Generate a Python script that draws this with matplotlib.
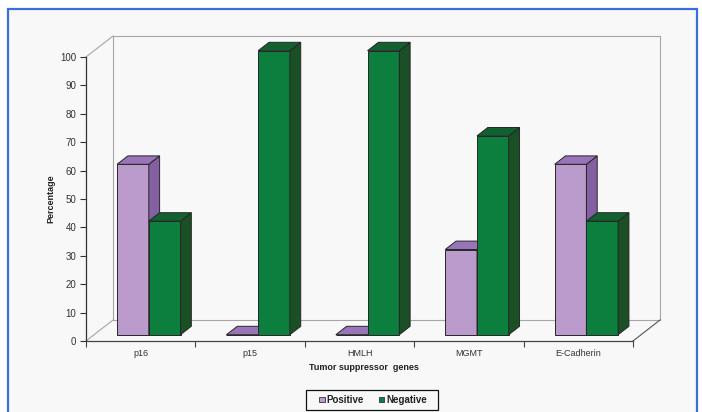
import matplotlib
matplotlib.use('Agg')
import matplotlib.pyplot as plt
import numpy as np
from matplotlib.patches import Polygon, Rectangle
from matplotlib.lines import Line2D
import matplotlib.transforms as mtransforms

categories = ['p16', 'p15', 'HMLH', 'MGMT', 'E-Cadherin']
positive = [60, 0, 0, 30, 60]
negative = [40, 100, 100, 70, 40]
series_names = ['Positive', 'Negative']
yticks = list(range(0, 101, 10))

plt.rcParams['font.family'] = ['Liberation Sans', 'DejaVu Sans']

W, H = 702, 412
fig = plt.figure(figsize=(W / 100, H / 100), dpi=100)
fig.patch.set_facecolor('white')
bg = '#f8f8f8'
fig.patches.append(Rectangle((8 / W, -0.05), (697 - 8) / W, 1 - 9 / H + 0.05,
                             transform=fig.transFigure, facecolor=bg,
                             edgecolor='#3b6fd8', lw=1.6, zorder=-5))

ax = fig.add_axes([86 / W, (H - 341) / H, 547 / W, 284 / H])
ax.set_autoscale_on(False)
ax.set_xlim(-0.5, len(categories) - 0.5)
ax.set_ylim(0, 100)
ax.patch.set_visible(False)
for s in ['top', 'right']:
    ax.spines[s].set_visible(False)
ax.spines['left'].set_color('#333333')
ax.spines['bottom'].set_color('#444444')
ax.spines['left'].set_linewidth(0.9)
ax.spines['bottom'].set_linewidth(0.9)

ax.set_yticks(yticks)
ax.tick_params(axis='y', direction='out', length=4, width=0.8, colors='#333333',
               labelsize=7, pad=3)
ax.set_xticks(np.arange(-0.5, len(categories)), labels=[''] * (len(categories) + 1))
ax.tick_params(axis='x', which='major', direction='out', length=4, width=0.8, colors='#444444')
ax.set_xticks(np.arange(len(categories)), labels=categories, minor=True)
ax.tick_params(axis='x', which='minor', length=0, labelsize=6.5, labelcolor='#333333', pad=6)

DX, DY = 27.0, 21.0  # full depth offset in pixels


def pt(x, y, d):
    p = ax.transData.transform((x, y))
    return (p[0] + DX * d, p[1] + DY * d)


ident = mtransforms.IdentityTransform()
wall_c = '#a6a6a6'


def line(pts, color=wall_c, lw=0.8, z=1):
    xs = [p[0] for p in pts]
    ys = [p[1] for p in pts]
    ax.add_line(Line2D(xs, ys, transform=ident, color=color, lw=lw, clip_on=False, zorder=z))


x0, x1 = -0.5, len(categories) - 0.5
# back wall and floor outline
line([pt(x0, 0, 1), pt(x0, 100, 1), pt(x1, 100, 1), pt(x1, 0, 1), pt(x0, 0, 1)])
line([pt(x0, 100, 0), pt(x0, 100, 1)])
line([pt(x0, 0, 0), pt(x0, 0, 1)])
line([pt(x1, 0, 0), pt(x1, 0, 1)], color='#555555')

colors = {
    'Positive': ('#bb9bcb', '#9a74b8', '#8460a3'),
    'Negative': ('#0c7f3e', '#136130', '#1b4f25'),
}
edge = '#262626'
bw = 0.29
d0, d1 = 0.3, 0.7


def bar(xl, xr, v, cols):
    front, top, side = cols
    faces = [
        ([pt(xl, 0, d0), pt(xr, 0, d0), pt(xr, v, d0), pt(xl, v, d0)], front),
        ([pt(xr, 0, d0), pt(xr, v, d0), pt(xr, v, d1), pt(xr, 0, d1)], side),
        ([pt(xl, v, d0), pt(xr, v, d0), pt(xr, v, d1), pt(xl, v, d1)], top),
    ]
    for poly, c in faces:
        ax.add_patch(Polygon(poly, closed=True, transform=ident, facecolor=c,
                             edgecolor=edge, lw=0.7, clip_on=False, zorder=2))


for i in range(len(categories)):
    bar(i - bw, i, positive[i], colors['Positive'])
    bar(i, i + bw, negative[i], colors['Negative'])

fig.text(51 / W, 1 - 199 / H, 'Percentage', rotation=90, ha='center', va='center',
         fontsize=6.5, fontweight='bold', color='#222222')
fig.text(364 / W, 1 - 368 / H, 'Tumor suppressor  genes', ha='center', va='center',
         fontsize=6.5, fontweight='bold', color='#222222')

# legend frame
fig.patches.append(Rectangle((306 / W, 1 - 410 / H), 132 / W, 20 / H,
                             transform=fig.transFigure, facecolor=bg,
                             edgecolor='#111111', lw=0.9, zorder=3))
handles = [Rectangle((0, 0), 1, 1, facecolor=colors[n][0], edgecolor='#333333', lw=0.6)
           for n in series_names]
leg = fig.legend(handles, series_names, loc='center', bbox_to_anchor=(373 / W, 1 - 400 / H),
                 ncol=2, frameon=False,
                 prop={'size': 7, 'weight': 'bold'}, handlelength=0.55, handleheight=0.55,
                 handletextpad=0.15, columnspacing=1.6, borderpad=0.3)
leg.set_zorder(4)
for t in leg.get_texts():
    t.set_color('#222222')

fig.savefig('out.png', dpi=100, facecolor=fig.get_facecolor())
